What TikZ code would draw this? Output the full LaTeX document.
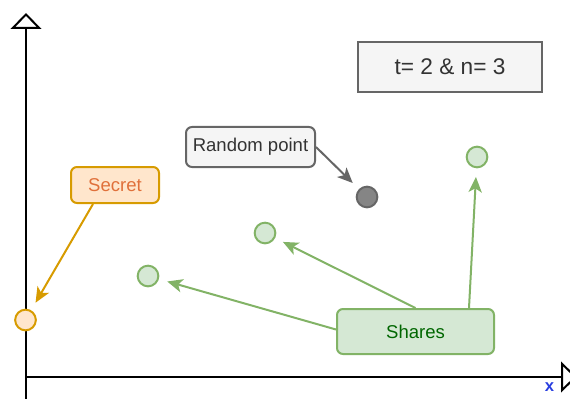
\documentclass[tikz,border=0pt]{standalone}
\usepackage{fontspec}
\setmainfont{Liberation Sans}
\usetikzlibrary{arrows.meta}
\definecolor{orstroke}{HTML}{D79B00}
\definecolor{orfill}{HTML}{FFE6CC}
\definecolor{ortext}{HTML}{E0703A}
\definecolor{grstroke}{HTML}{666666}
\definecolor{grfill}{HTML}{F5F5F5}
\definecolor{grtext}{HTML}{333333}
\definecolor{grdot}{HTML}{858585}
\definecolor{gnstroke}{HTML}{82B366}
\definecolor{gnfill}{HTML}{D5E8D4}
\definecolor{gntext}{HTML}{006600}
\definecolor{xblue}{HTML}{2A3FE0}
\begin{document}
\begin{tikzpicture}[x=0.75pt,y=-0.75pt,
  font=\fontsize{13.9}{16}\selectfont,
  box/.style={rounded corners=4.5pt,line width=1.5pt,inner sep=0pt},
  dot/.style={circle,line width=1.5pt,minimum size=15.5pt,inner sep=0pt},
  link/.style={line width=1.5pt,-{Stealth[length=11.5pt,width=10pt,inset=3pt]},shorten >=6.5pt},
  axis/.style={line width=1.5pt,-{Triangle[open,length=12pt,width=23pt]}}]
\useasboundingbox (0,0) rectangle (570,399);
\coordinate (o) at (26,377);
\draw[axis] (26,399) -- (26,13);
\draw[axis] (o) -- (577,377);
\node[text=xblue,font=\fontsize{12.5}{14}\bfseries] (xl) at (549.5,387.5) {x};

\node[draw=grstroke,fill=grfill,text=grtext,line width=0.8pt,inner sep=0pt,
  font=\fontsize{17}{19}\selectfont,
  minimum width=138pt,minimum height=37.5pt] (tn) at (450,67) {t= 2 \& n= 3};
\node[box,draw=orstroke,fill=orfill,text=ortext,minimum width=66pt,minimum height=27pt] (secret) at (115,185) {Secret};
\node[box,draw=grstroke,fill=grfill,text=grtext,minimum width=96.75pt,minimum height=30pt] (random) at (250.5,147) {Random point};
\node[box,draw=gnstroke,fill=gnfill,text=gntext,minimum width=117.75pt,minimum height=33.75pt] (shares) at (415.5,331.5) {Shares};

\node[dot,draw=orstroke,fill=orfill] (s0) at (25.5,320) {};
\node[dot,draw=grstroke,fill=grdot] (r0) at (367,197) {};
\node[dot,draw=gnstroke,fill=gnfill] (p1) at (148,276) {};
\node[dot,draw=gnstroke,fill=gnfill] (p2) at (265,233) {};
\node[dot,draw=gnstroke,fill=gnfill] (p3) at (477,157) {};

\draw[link,draw=orstroke,fill=orstroke] ([xshift=-16.5pt]secret.south) -- (s0);
\draw[link,draw=grstroke,fill=grstroke] (random.east) -- (r0);
\draw[link,draw=gnstroke,fill=gnstroke] ([yshift=1.5pt]shares.west) -- (p1);
\draw[link,draw=gnstroke,fill=gnstroke] (shares.north) -- (p2);
\draw[link,draw=gnstroke,fill=gnstroke] ([xshift=-19.5pt]shares.north east) -- (p3);
\end{tikzpicture}
\end{document}
